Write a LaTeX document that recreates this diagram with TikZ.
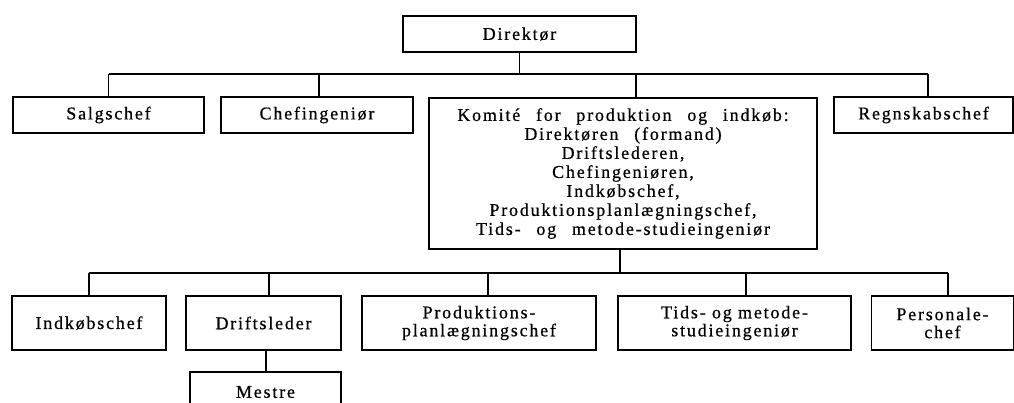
\documentclass[tikz,border=0pt]{standalone}
\usepackage{fontspec}
\setmainfont{Liberation Serif}[LetterSpace=10, FakeBold=0.6]
\newfontfamily\komfont{Liberation Serif}[LetterSpace=10, WordSpace=2.5, FakeBold=0.6]
\begin{document}
\begin{tikzpicture}[x=1pt,y=-1pt,
  box/.style={draw, line width=1.7pt, inner sep=0pt, align=center,
    font=\fontsize{18}{18}\selectfont},
  conn/.style={line width=1.6pt}]
\clip (0,0) rectangle (1014,403);
\fill[white] (0,0) rectangle (1014,403);
% top
\node[box, minimum width=233pt, minimum height=36pt] (dir) at (519.5,34) {Direktør};
% second row
\node[box, minimum width=191pt, minimum height=36pt] (sal) at (108.5,115) {Salgschef};
\node[box, minimum width=192pt, minimum height=36pt] (chf) at (317,115) {Chefingeniør};
\node[box, minimum width=388pt, minimum height=151pt,
  font=\komfont\fontsize{18}{19}\selectfont] (kom) at (623,173.5)
  {Komité for produktion og indkøb:\\Direktøren (formand)\\Driftslederen,\\Chefingeniøren,\\Indkøbschef,\\Produktionsplanlægningschef,\\Tids- og metode-studieingeniør};
\node[box, minimum width=179pt, minimum height=36pt] (reg) at (923.5,115) {Regnskabschef};
% third row
\node[box, minimum width=154pt, minimum height=54pt] (ind) at (89,323) {Indkøbschef};
\node[box, minimum width=155pt, minimum height=54pt] (dri) at (263.5,323) {Driftsleder};
\node[box, minimum width=234pt, minimum height=54pt] (pro) at (479,323) {Produktions-\\planlægningschef};
\node[box, minimum width=233pt, minimum height=54pt] (tid) at (734.5,323) {Tids- og metode-\\studieingeniør};
\node[box, minimum width=142pt, minimum height=54pt] (per) at (942.5,323) {Personale-\\chef};
\node[box, minimum width=151pt, minimum height=40pt] (mes) at (265.5,392) {Mestre};
% bus coordinates
\coordinate (bus1) at (521,74);
\coordinate (bus2) at (620,273);
\coordinate (cd) at ([xshift=2pt]chf.north);
\coordinate (kd) at ([xshift=13pt]kom.north);
\coordinate (rd) at ([xshift=4.5pt]reg.north);
\coordinate (ks) at ([xshift=-3pt]kom.south);
\coordinate (dd) at ([xshift=5.5pt]dri.north);
\coordinate (pd) at ([xshift=9pt]pro.north);
\coordinate (td) at ([xshift=11.5pt]tid.north);
\coordinate (ed) at ([xshift=5.5pt]per.north);
\coordinate (dm) at ([xshift=2.5pt]dri.south);
% upper connectors
\draw[conn] (dir.south) -- (dir.south |- bus1);
\draw[conn] (sal.north |- bus1) -- (rd |- bus1);
\draw[conn] (sal.north) -- (sal.north |- bus1);
\draw[conn] (cd) -- (cd |- bus1);
\draw[conn] (kd) -- (kd |- bus1);
\draw[conn] (rd) -- (rd |- bus1);
% lower connectors
\draw[conn] (ks) -- (ks |- bus2);
\draw[conn] (ind.north |- bus2) -- (ed |- bus2);
\draw[conn] (ind.north) -- (ind.north |- bus2);
\draw[conn] (dd) -- (dd |- bus2);
\draw[conn] (pd) -- (pd |- bus2);
\draw[conn] (td) -- (td |- bus2);
\draw[conn] (ed) -- (ed |- bus2);
\draw[conn] (dm) -- (dm |- mes.north);
\end{tikzpicture}
\end{document}
